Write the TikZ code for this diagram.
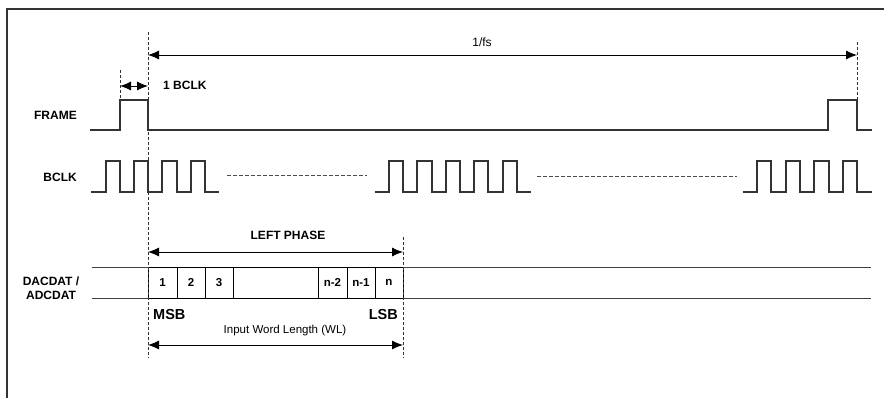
\documentclass[tikz,border=0pt]{standalone}
\usepackage{fontspec}
\setmainfont{Liberation Sans}
\usepackage{tikz}
\usetikzlibrary{arrows.meta}
\tikzstyle{sig}=[line width=1.4pt,draw=black!80]
\tikzstyle{guide}=[thin,draw=black!80,dash pattern=on 3pt off 2pt]
\tikzstyle{gap}=[thin,draw=black!70,dash pattern=on 4pt off 2pt]
\tikzstyle{dim}=[thick,{Latex[length=11pt,width=9pt]}-{Latex[length=11pt,width=9pt]}]
\tikzstyle{lbl}=[font=\bfseries\fontsize{12}{14}\selectfont,inner sep=0pt]
\tikzstyle{big}=[font=\bfseries\fontsize{14.5}{16}\selectfont,inner sep=0pt]
\tikzstyle{note}=[font=\fontsize{11.5}{13}\selectfont,inner sep=0pt]
\tikzstyle{cell}=[rectangle,draw=black,thick,fill=white,minimum height=31pt,inner sep=0pt,font=\bfseries\fontsize{11.5}{13}\selectfont]

\begin{document}
\begin{tikzpicture}[x=1pt,y=-1pt]
        \useasboundingbox (0,0) rectangle (884,398);
        \draw [line width=1.8pt,black!80] (7,398) -- (7,9) -- (884,9);

        % guide lines
        \coordinate (ms) at (148,32);
        \coordinate (me) at (148,358);
        \coordinate (ls) at (403,237);
        \coordinate (le) at (403,358);
        \coordinate (fa) at (120,70);
        \coordinate (fb) at (120,100);
        \coordinate (ea) at (857,42);
        \coordinate (eb) at (857,100);
        \draw [guide] (fa) -- (fb);
        \draw [guide] (ea) -- (eb);

        % labels
        \node at (77,115) [lbl,anchor=east] (frame) {FRAME};
        \node at (77,177) [lbl,anchor=east] (bclk) {BCLK};
        \node at (51,288) [lbl,align=center] (dat) {DACDAT /\\ADCDAT};
        \node at (163,85) [lbl,anchor=west] (onebclk) {1 BCLK};
        \node at (482,42) [note,font=\fontsize{12}{14}\selectfont] (fs) {1/fs};
        \node at (288,235) [lbl] (left) {LEFT PHASE};
        \node at (153,315) [big,anchor=west] (msb) {MSB};
        \node at (398,315) [big,anchor=east] (lsb) {LSB};
        \node at (285,331) [note] (wl) {Input Word Length (WL)};

        % dimension arrows
        \coordinate (b0) at (120,86);
        \coordinate (b1) at (148,86);
        \coordinate (p0) at (148,55);
        \coordinate (p1) at (857,55);
        \coordinate (h0) at (148,252);
        \coordinate (h1) at (403,252);
        \coordinate (w0) at (148,345);
        \coordinate (w1) at (403,345);
        \draw [dim] (b0) -- (b1);
        \draw [dim] (p0) -- (p1);
        \draw [dim] (h0) -- (h1);
        \draw [dim] (w0) -- (w1);

        % FRAME
        \draw [sig] (90,130) -- (120,130) -- (120,100) -- (148,100) -- (148,130)
              -- (828,130) -- (828,100) -- (857,100) -- (857,130) -- (872,130);

        % BCLK
        \draw [sig] (91,192) -- (106,192) -- (106,161) -- (120,161) -- (120,192)
              -- (134,192) -- (134,161) -- (148,161) -- (148,192) -- (162,192)
              -- (162,161) -- (177,161) -- (177,192) -- (191,192) -- (191,161)
              -- (205,161) -- (205,192) -- (219,192);
        \draw [sig] (375,192) -- (389,192) -- (389,161) -- (403,161) -- (403,192)
              -- (417,192) -- (417,161) -- (432,161) -- (432,192) -- (446,192)
              -- (446,161) -- (460,161) -- (460,192) -- (474,192) -- (474,161)
              -- (488,161) -- (488,192) -- (503,192) -- (503,161) -- (517,161)
              -- (517,192) -- (531,192);
        \draw [sig] (743,192) -- (757,192) -- (757,161) -- (771,161) -- (771,192)
              -- (786,192) -- (786,161) -- (800,161) -- (800,192) -- (814,192)
              -- (814,161) -- (829,161) -- (829,192) -- (843,192) -- (843,161)
              -- (857,161) -- (857,192) -- (872,192);
        \coordinate (g0) at (227,175);
        \coordinate (g1) at (367,175);
        \coordinate (g2) at (537,176);
        \coordinate (g3) at (737,176);
        \draw [gap] (g0) -- (g1);
        \draw [gap] (g2) -- (g3);

        % DACDAT / ADCDAT
        \draw [thick,black!75] (92,267) -- (871,267);
        \draw [thick,black!75] (92,298) -- (871,298);
        \node at (162.5,282.5) [cell,minimum width=29pt] (c1) {1};
        \node at (191,282.5)   [cell,minimum width=28pt] (c2) {2};
        \node at (219,282.5)   [cell,minimum width=28pt] (c3) {3};
        \node at (275.5,282.5) [cell,minimum width=85pt] (cm) {};
        \node at (332.5,282.5) [cell,minimum width=29pt] (c4) {n-2};
        \node at (361,282.5)   [cell,minimum width=28pt] (c5) {n-1};
        \node at (389,282.5)   [cell,minimum width=28pt] (c6) {n};
        \draw [guide] (ms) -- (me);
        \draw [guide] (ls) -- (le);
      \end{tikzpicture}
\end{document}
